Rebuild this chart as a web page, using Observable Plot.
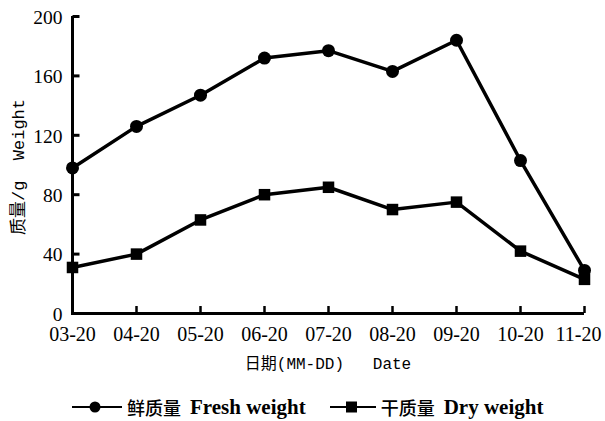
<!DOCTYPE html>
<html><head><meta charset="utf-8">
<script src="https://cdn.jsdelivr.net/npm/d3@7"></script>
<script src="https://cdn.jsdelivr.net/npm/@observablehq/plot@0.6"></script>
<style>
body{margin:0;background:#fff;width:605px;height:421px;overflow:hidden}
#chart svg text{font-family:'Liberation Serif',serif}
#chart svg g.mono text{font-family:'Liberation Mono','Noto Sans CJK SC',monospace}
#legend{position:absolute;left:72px;top:395px;display:flex;gap:24px;font-family:'Liberation Serif',serif;font-size:21px;font-weight:bold;color:#000;align-items:center;line-height:24px;white-space:nowrap}
#legend > span{display:flex;align-items:center;gap:5px}
#legend .cjk{font-family:'Noto Sans CJK SC';font-weight:500;font-size:18px;margin-right:4px}
</style>
</head><body>
<div id="chart"></div>
<div id="legend"></div>
<script>
const dates = ["03-20","04-20","05-20","06-20","07-20","08-20","09-20","10-20","11-20"];
const fresh = [98,126,147,172,177,163,184,103,29];
const dry = [31,40,63,80,85,70,75,42,23];
const yTicks = [0,40,80,120,160,200];
const seriesNames = ["鲜质量 Fresh weight","干质量 Dry weight"];
const xTitle = "日期(MM-DD)   Date";
const yTitle = "质量/g  Weight";

const freshData = dates.map((d,i)=>({date:d, v:fresh[i]}));
const dryData = dates.map((d,i)=>({date:d, v:dry[i]}));

// inward tick symbol (short stroke to the right) for the y axis
const tickRight = {draw(ctx){ ctx.moveTo(0, 0); ctx.lineTo(7, 0); }};

const chart = Plot.plot({
  width: 605, height: 384,
  marginLeft: 71, marginRight: 21, marginTop: 16, marginBottom: 71,
  style: {fontSize: "20px", color: "#000", background: "#fff"},
  x: {type: "point", domain: dates, padding: 0},
  y: {domain: [0, 200]},
  marks: [
    Plot.axisY(yTicks, {tickSize: 0, tickPadding: 9, dy: 1, fontSize: 19.5, label: null}),
    Plot.axisX(dates.slice(0, -1), {tickSize: 0, tickPadding: 13, fontSize: 20, label: null}),
    Plot.axisX(dates.slice(-1), {tickSize: 0, tickPadding: 13, dx: -6, fontSize: 20, label: null}),
    Plot.dot(yTicks.slice(1), {x: () => dates[0], y: d => d, r: 3, symbol: tickRight, fill: "none", stroke: "#000", strokeWidth: 3}),
    Plot.ruleX(dates.slice(1), {x: d => d, y1: 0, y2: 4.7, stroke: "#000", strokeWidth: 2.5}),
    Plot.ruleY([0], {stroke: "#000", strokeWidth: 3}),
    Plot.ruleX([dates[0]], {y1: 0, y2: 200, stroke: "#000", strokeWidth: 3}),
    Plot.lineY(freshData, {x: "date", y: "v", stroke: "#000", strokeWidth: 3.5}),
    Plot.lineY(dryData, {x: "date", y: "v", stroke: "#000", strokeWidth: 3.5}),
    Plot.dot(freshData, {x: "date", y: "v", r: 6.5, fill: "#000", symbol: "circle"}),
    Plot.dot(dryData, {x: "date", y: "v", r: 6.5, fill: "#000", symbol: "square"}),
    Plot.text([xTitle], {frameAnchor: "bottom", dy: 55, fontSize: 16, className: "mono"}),
    Plot.text([yTitle], {frameAnchor: "left", dx: -53, dy: 2, rotate: -90, textAnchor: "middle", fontSize: 17, className: "mono"})
  ]
});
document.getElementById("chart").appendChild(chart);

const sym = (shape, w) => `<svg width="${w}" height="14" viewBox="0 0 ${w} 14"><line x1="0" y1="7" x2="${w}" y2="7" stroke="#000" stroke-width="2"/>${shape==="circle"?`<circle cx="${w/2-2}" cy="7" r="5.5" fill="#000"/>`:`<rect x="${w/2-7}" y="1.5" width="11" height="11" fill="#000"/>`}</svg>`;
const parts = seriesNames.map(n => n.split(" "));
document.getElementById("legend").innerHTML =
  `<span>${sym("circle", 50)}<span class="cjk">${parts[0][0]}</span>${parts[0].slice(1).join(" ")}</span>` +
  `<span>${sym("square", 46)}<span class="cjk">${parts[1][0]}</span>${parts[1].slice(1).join(" ")}</span>`;
</script>
</body></html>
